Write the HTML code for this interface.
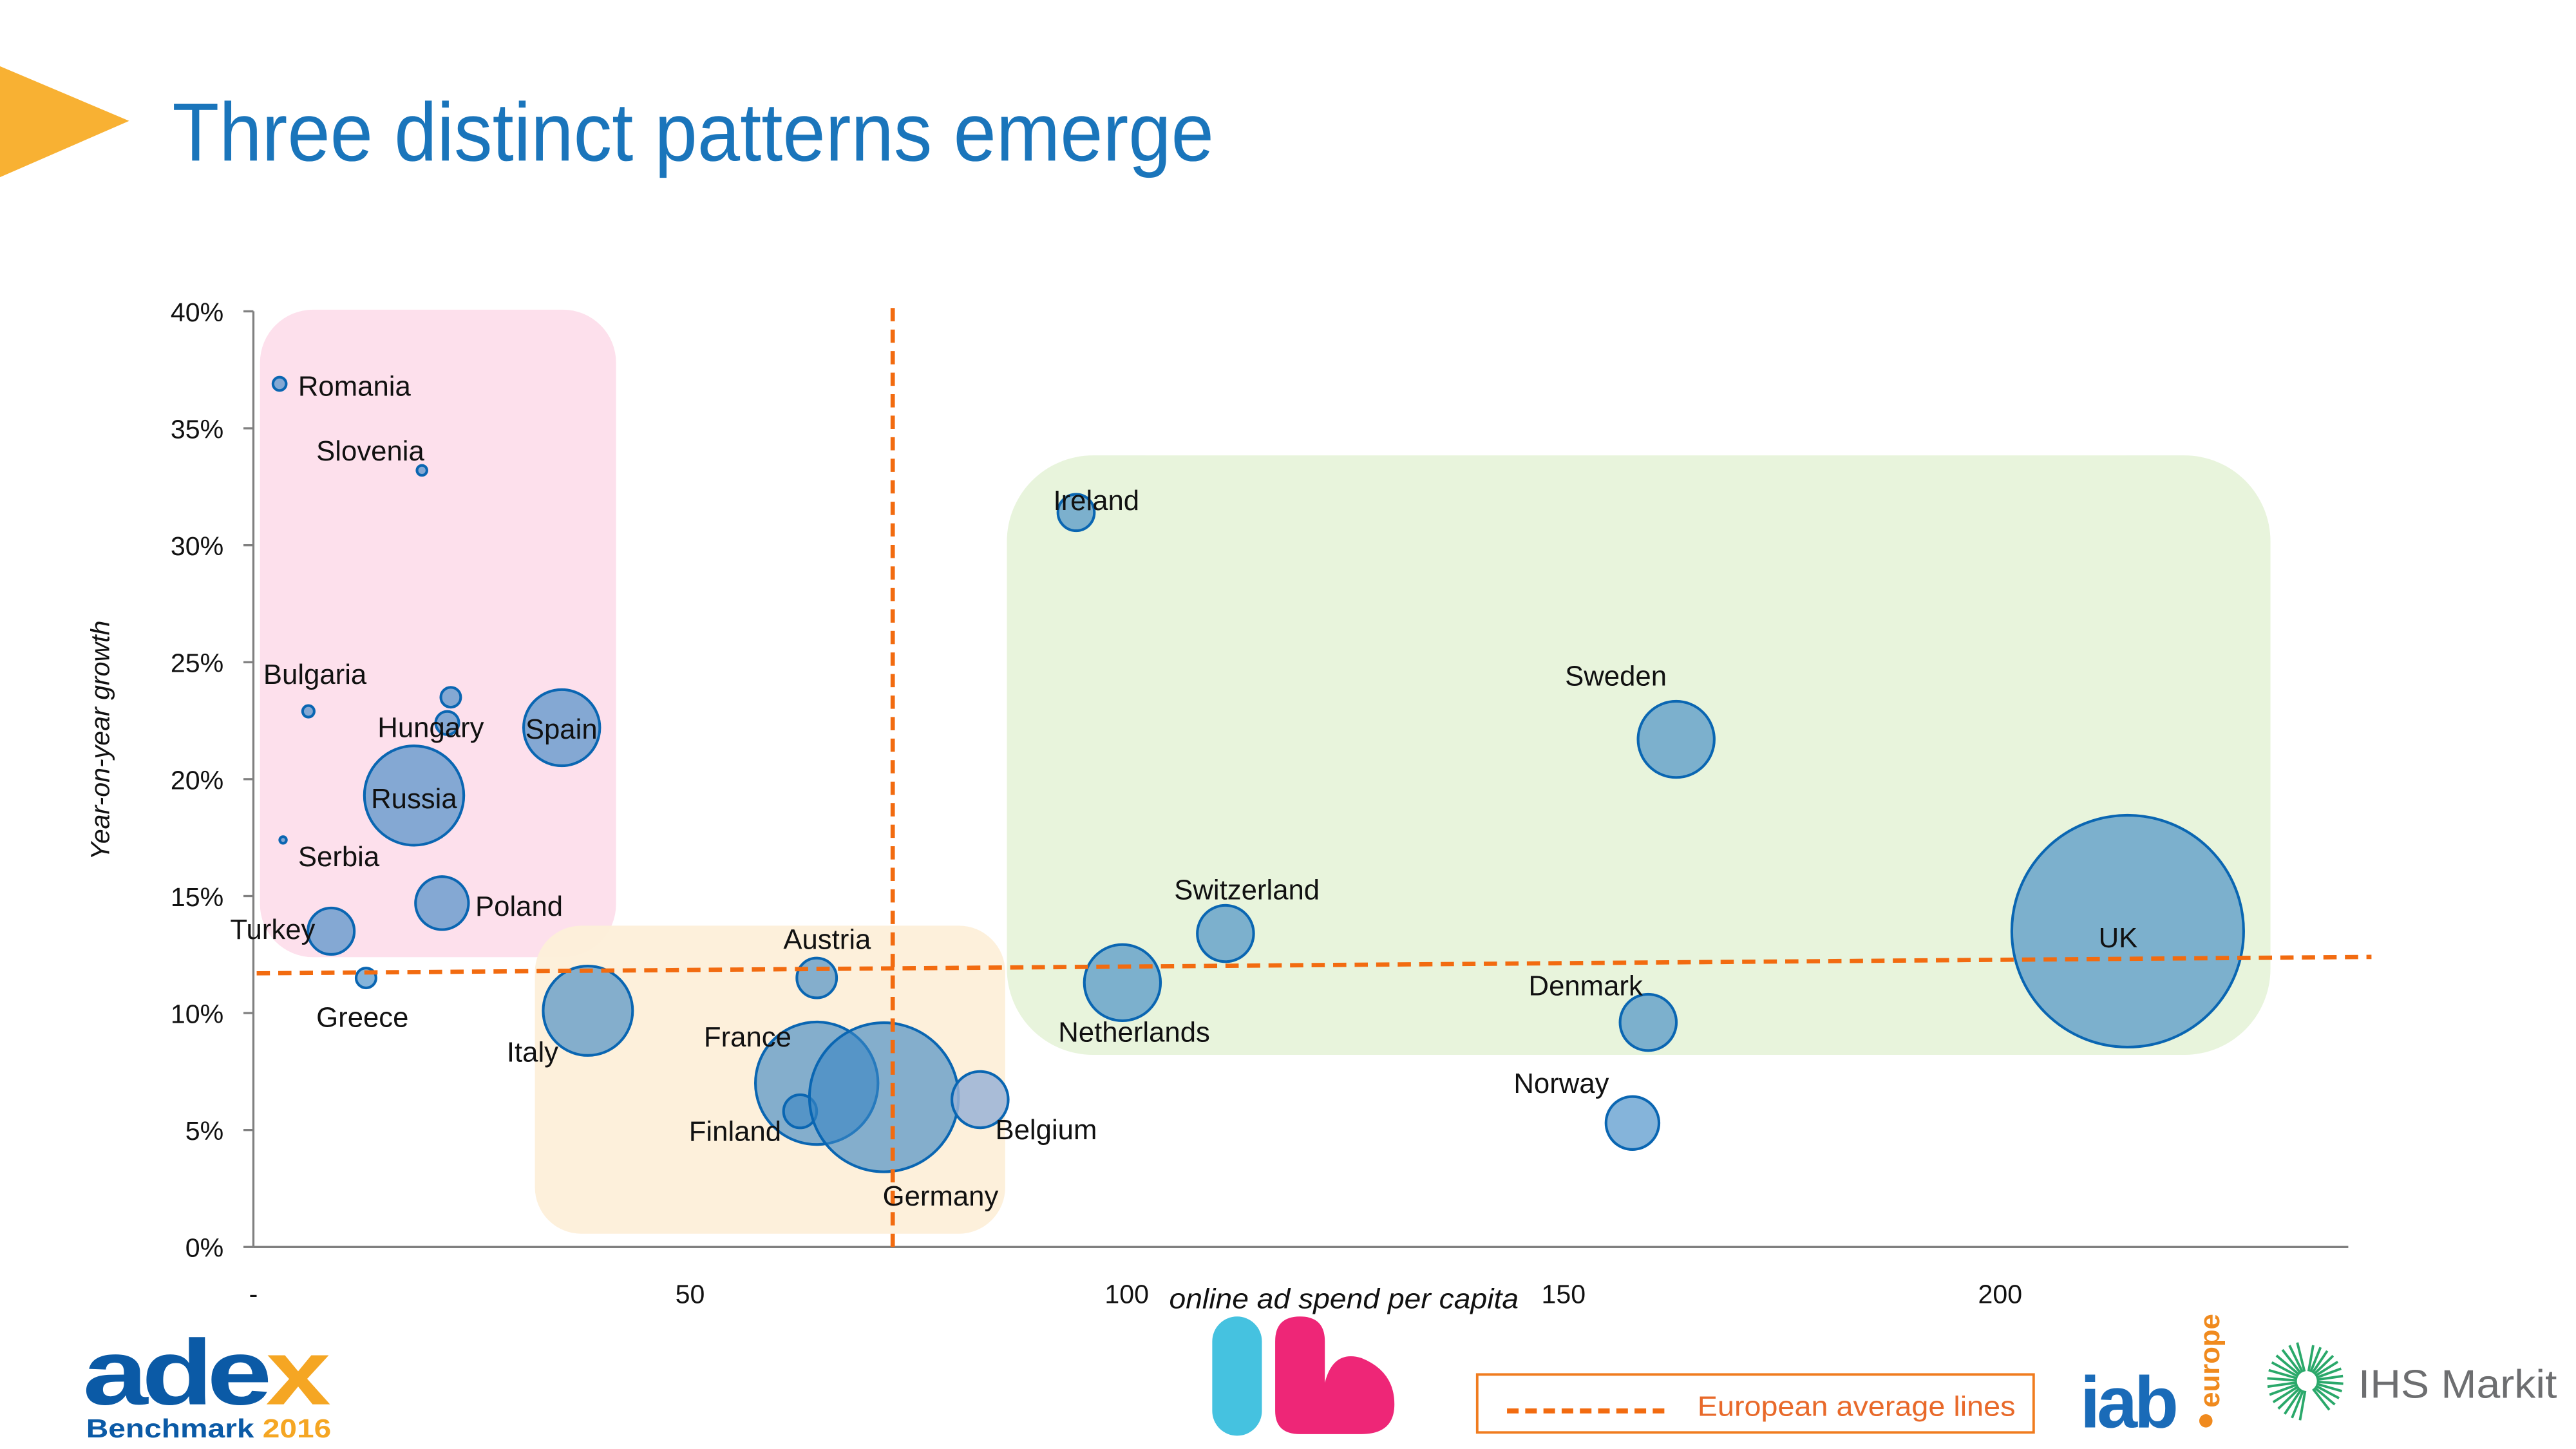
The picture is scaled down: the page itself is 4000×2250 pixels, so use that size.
<!DOCTYPE html>
<html><head><meta charset="utf-8">
<style>
html,body{margin:0;padding:0;background:#fff;}
svg{display:block;font-family:"Liberation Sans",sans-serif;}
</style></head>
<body>
<svg id="chart" width="4000" height="2250" viewBox="0 0 1555.5 875" preserveAspectRatio="none" xmlns="http://www.w3.org/2000/svg">
<polygon points="0,40 78,73 0,107" fill="#f8b133"/>
<text x="104" y="97" font-size="50" fill="#1a75bb" textLength="629" lengthAdjust="spacingAndGlyphs">Three distinct patterns emerge</text>
<rect x="157" y="187" width="215" height="391" rx="32" fill="#fde0ec"/>
<rect x="323" y="559" width="284" height="186" rx="28" fill="#fdefd9" opacity="0.95"/>
<rect x="608" y="275" width="763" height="362" rx="52" fill="#e8f4dc"/>
<g id="axes"></g>
<g id="bubbles"></g>
<g id="avg"></g>
<g id="labels" font-size="17" fill="#111"></g>
<text transform="translate(66,447) rotate(-90)" text-anchor="middle" font-size="16" font-style="italic" fill="#111">Year-on-year growth</text>
<text x="706" y="790" font-size="17" font-style="italic" fill="#111" textLength="211" lengthAdjust="spacingAndGlyphs">online ad spend per capita</text>
<g>
<rect x="892" y="830" width="336" height="35" fill="#fff" stroke="#f07c1f" stroke-width="1.5"/>
<line x1="910" y1="852" x2="1008" y2="852" stroke="#f26b10" stroke-width="3" stroke-dasharray="7,4"/>
<text x="1025" y="855" font-size="17" fill="#e8692a" textLength="192" lengthAdjust="spacingAndGlyphs">European average lines</text>
</g>
<g>
<text x="50" y="848" font-size="56" font-weight="bold" fill="#0b5aa6" letter-spacing="-3" textLength="146" lengthAdjust="spacingAndGlyphs">ade<tspan fill="#f5a623">x</tspan></text>
<text x="52" y="868" font-size="16" font-weight="bold" fill="#0b5aa6" textLength="148" lengthAdjust="spacingAndGlyphs">Benchmark <tspan fill="#f5a623">2016</tspan></text>
</g>
<g>
<rect x="732" y="795" width="30" height="72" rx="15" fill="#45c2e0"/>
<path d="M770,810 Q770,795 785,795 Q800,795 800,810 L800,835 Q805,815 822,820 Q842,828 842,848 Q842,866 822,866 L785,866 Q770,866 770,852 Z" fill="#ee2677"/>
</g>
<g>
<text x="1256" y="862" font-size="44" font-weight="bold" fill="#1a6bb8" letter-spacing="-2">iab</text>
<circle cx="1332" cy="858" r="4" fill="#f08a1e"/>
<text transform="translate(1340,850) rotate(-90)" font-size="17" font-weight="bold" fill="#f08a1e">europe</text>
</g>
<g>
<g id="ihs" stroke="#2aa86a" stroke-width="1.5"></g>
<text x="1424" y="844" font-size="24" fill="#6d6e70" textLength="120" lengthAdjust="spacingAndGlyphs">IHS Markit</text>
</g>
<script>
var xTicks=[0,50,100,150,200];
var xTickLabels=["-","50","100","150","200"];
var yTicks=[0,5,10,15,20,25,30,35,40];
var countries=["Romania","Slovenia","Bulgaria","Croatia","Hungary","Spain","Russia","Serbia","Poland","Turkey","Greece","Italy","Austria","France","Finland","Germany","Belgium","Ireland","Netherlands","Switzerland","Sweden","Denmark","Norway","UK"];
var spend=[3.0,19.3,6.3,22.6,22.2,35.3,18.4,3.4,21.6,8.9,12.9,38.3,64.5,64.5,62.6,72.2,83.2,94.2,99.5,111.3,162.9,159.7,157.9,214.6];
var growth=[36.9,33.2,22.9,23.5,22.4,22.2,19.3,17.4,14.7,13.5,11.5,10.1,11.5,7.0,5.8,6.4,6.3,31.4,11.3,13.4,21.7,9.6,5.3,13.5];
var sizes=[4,3,3.5,6,7,23,30,2,16,14,6,27,12,37,10,45,17,11,23,17,23,17,16,70];
var avgSpend=73.2;
var avgGrowthStart=11.7, avgGrowthEnd=12.4;
var NS="http://www.w3.org/2000/svg";
function X(v){return 153+v*5.274;}
function Y(v){return 753-v*14.125;}
function mk(tag,attrs,parent){var e=document.createElementNS(NS,tag);for(var k in attrs)e.setAttribute(k,attrs[k]);parent.appendChild(e);return e;}
var axes=document.getElementById('axes');
var ya=mk('line',{x1:153,y1:188,x2:153,y2:753,stroke:'#808080','stroke-width':1.3},axes);


var xa=mk('line',{x1:153,y1:753,x2:1418,y2:753,stroke:'#808080','stroke-width':1.3},axes);


yTicks.forEach(function(t){
  mk('line',{x1:147,y1:Y(t),x2:153,y2:Y(t),stroke:'#808080','stroke-width':1.3},axes);
  var tx=mk('text',{x:135,y:Y(t)+6,'text-anchor':'end','font-size':16,fill:'#111'},axes);
  tx.textContent=t+'%';
  
  
});
xTicks.forEach(function(t,i){
  var tx=mk('text',{x:X(t),y:787,'text-anchor':'middle','font-size':16,fill:'#111'},axes);
  tx.textContent=xTickLabels[i];
  
  
});
var bg=document.getElementById('bubbles');
countries.forEach(function(c,i){
  var fill=(c==='Belgium')?'#9ab3d6':'#3a86c4';
  var op=(c==='Belgium')?0.85:0.62;
  var b=mk('circle',{cx:X(spend[i]),cy:Y(growth[i]),r:sizes[i],fill:fill,'fill-opacity':op,stroke:'#0a66b2','stroke-width':1.6},bg);
  
  
});
var ag=document.getElementById('avg');
var vl=mk('line',{x1:X(avgSpend),y1:186,x2:X(avgSpend),y2:755,stroke:'#f26b10','stroke-width':2.6,'stroke-dasharray':'8,5'},ag);


var hl=mk('line',{x1:155,y1:Y(avgGrowthStart),x2:1432,y2:Y(avgGrowthEnd),stroke:'#f26b10','stroke-width':2.6,'stroke-dasharray':'8,5'},ag);


var labelPos={Romania:[180,239,'start'],Slovenia:[191,278,'start'],Bulgaria:[159,413,'start'],Hungary:[228,445,'start'],Spain:[339,446,'middle'],Russia:[250,488,'middle'],Serbia:[180,523,'start'],Poland:[287,553,'start'],Turkey:[139,567,'start'],Greece:[191,620,'start'],Italy:[306,641,'start'],Austria:[473,573,'start'],France:[425,632,'start'],Finland:[416,689,'start'],Germany:[533,728,'start'],Belgium:[601,688,'start'],Ireland:[636,308,'start'],Netherlands:[639,629,'start'],Switzerland:[709,543,'start'],Sweden:[945,414,'start'],Denmark:[923,601,'start'],Norway:[914,660,'start'],UK:[1279,572,'middle']};
var lg=document.getElementById('labels');
countries.forEach(function(c){
  var p=labelPos[c]; if(!p) return;
  var t=mk('text',{x:p[0],y:p[1],'text-anchor':p[2]},lg);
  t.textContent=c;
  
  
});
var ihs=document.getElementById('ihs');
for(var a=100;a<=260;a+=12){
  var r=a*Math.PI/180;
  mk('line',{x1:1393+Math.cos(r)*6,y1:834+Math.sin(r)*6,x2:1393+Math.cos(r)*24,y2:834+Math.sin(r)*24},ihs);
}
for(var a=-80;a<=60;a+=12){
  var r=a*Math.PI/180;
  mk('line',{x1:1393+Math.cos(r)*6,y1:834+Math.sin(r)*6,x2:1393+Math.cos(r)*22,y2:834+Math.sin(r)*22},ihs);
}
</script>
</svg>
</body></html>
